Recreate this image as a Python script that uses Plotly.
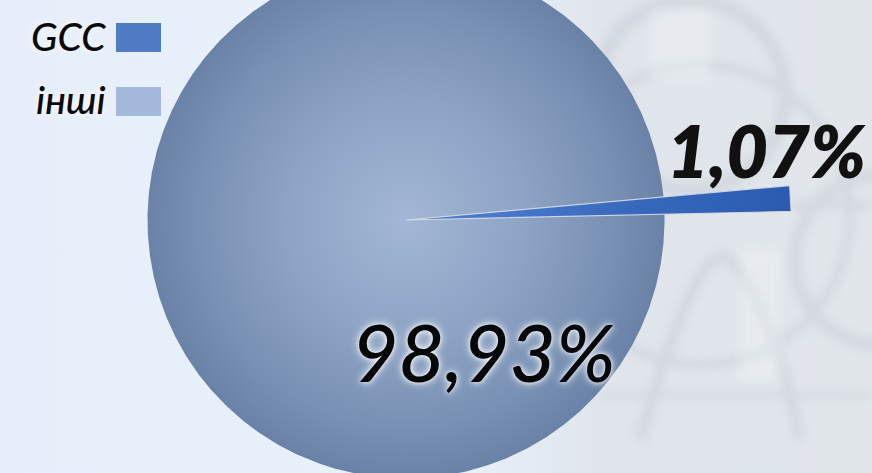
import base64
import numpy as np
import plotly.graph_objects as go

# ---- data -------------------------------------------------------------
labels = ["GCC", "інші"]
shares = [1.07, 98.93]          # per cent
slice_colors = ["#4f7cc4", "#a4b9d9"]

# ---- styling ----------------------------------------------------------
W, H = 872, 473
PX_PER_UNIT = 258.5              # radius of the main disc in pixels
CENTER_PX = (406, 220)           # disc centre on the canvas
START_ANGLE = 1.28               # degrees, counter-clockwise from east
RADII = [1.49, 1.0]              # GCC slice is drawn longer than the disc
FONT = "Lato"


def fmt(v):
    return f"{v:.2f}".replace(".", ",") + "%"


def wedge(a0, a1, r, n=400):
    t = np.radians(np.linspace(a0, a1, n))
    x = np.concatenate([[0.0], r * np.cos(t), [0.0]])
    y = np.concatenate([[0.0], r * np.sin(t), [0.0]])
    return x, y


# angular extents derived from the shares
sweeps = [s / 100.0 * 360.0 for s in shares]
starts = [START_ANGLE, START_ANGLE + sweeps[0]]

# axis ranges that keep one data unit equal to PX_PER_UNIT pixels
cx, cy = CENTER_PX
x_range = [-cx / PX_PER_UNIT, (W - cx) / PX_PER_UNIT]
y_range = [-(H - cy) / PX_PER_UNIT, cy / PX_PER_UNIT]

fig = go.Figure()

# "інші" – the large disc with a soft radial shading
ox, oy = wedge(starts[1], starts[1] + sweeps[1], RADII[1], 900)
fig.add_trace(go.Scatter(
    x=ox, y=oy, mode="lines", fill="toself", name=labels[1],
    line=dict(width=0, color=slice_colors[1]),
    fillgradient=dict(type="radial",
                      colorscale=[[0, "#a2b7d5"], [0.45, "#8ea4c5"],
                                  [0.8, "#7890b3"], [1, "#6a82a7"]]),
    hoverinfo="skip", showlegend=False,
))

# "GCC" – the thin, longer slice
gx, gy = wedge(starts[0], starts[0] + sweeps[0], RADII[0], 60)
fig.add_trace(go.Scatter(
    x=gx, y=gy, mode="lines", fill="toself", name=labels[0],
    line=dict(width=1.2, color="rgba(215,220,228,0.9)"),
    fillgradient=dict(type="horizontal", start=0, stop=RADII[0],
                      colorscale=[[0, "#5283d2"], [0.6, "#3868bc"],
                                  [1, "#2a5bb0"]]),
    hoverinfo="skip", showlegend=False,
))


def px_to_data(px, py):
    return (px - cx) / PX_PER_UNIT, (cy - py) / PX_PER_UNIT


annotations = []

# value labels
lx, ly = px_to_data(766, 150)
annotations.append(dict(
    x=lx, y=ly, text=fmt(shares[0]), showarrow=False,
    xanchor="center", yanchor="middle",
    font=dict(family=FONT, size=72, color="#111111", style="italic",
              weight=800),
))
lx, ly = px_to_data(484, 351)
annotations.append(dict(
    x=lx, y=ly, text=fmt(shares[1]), showarrow=False,
    xanchor="center", yanchor="middle",
    font=dict(family=FONT, size=80, color="#050708", style="italic",
              weight=500,
              shadow="0px 0px 10px rgba(255,255,255,0.95), 0px 0px 4px rgba(255,255,255,0.8)"),
))

# legend: text on the left, colour swatch on the right
legend_rows = [(36, 23, 52), (99, 87, 116)]
for name, color, (ty, y0, y1) in zip(labels, slice_colors, legend_rows):
    annotations.append(dict(
        xref="paper", yref="paper", x=108 / W, y=1 - ty / H,
        text=name, showarrow=False, xanchor="right", yanchor="middle",
        font=dict(family=FONT, size=39, color="#0a0a0a", style="italic",
                  weight=500, shadow="0px 0px 8px #ffffff"),
    ))

shapes = []
for color, (ty, y0, y1) in zip(slice_colors, legend_rows):
    shapes.append(dict(
        type="rect", xref="paper", yref="paper",
        x0=116 / W, x1=161 / W, y0=1 - y1 / H, y1=1 - y0 / H,
        fillcolor=color, line=dict(width=0), layer="above",
    ))

# light backdrop with a faint metallic motif on the right
bg_svg = f"""<svg xmlns='http://www.w3.org/2000/svg' width='{W}' height='{H}' viewBox='0 0 {W} {H}'>
<defs>
<linearGradient id='g' x1='0' x2='1' y1='0' y2='0'>
<stop offset='0' stop-color='#e5eefa'/>
<stop offset='0.5' stop-color='#e9f1fa'/>
<stop offset='0.7' stop-color='#e0e5eb'/>
<stop offset='1' stop-color='#e2e6eb'/>
</linearGradient>
<filter id='b'><feGaussianBlur stdDeviation='5'/></filter>
</defs>
<rect width='{W}' height='{H}' fill='url(#g)'/>
<g fill='none' stroke='#c4cbd4' opacity='0.45' filter='url(#b)'>
<circle cx='690' cy='95' r='95' stroke-width='16'/>
<circle cx='880' cy='260' r='85' stroke-width='14'/>
<circle cx='700' cy='215' r='150' stroke-width='10'/>
<path d='M640 440 Q700 230 730 260 Q770 300 800 440' stroke-width='12'/>
<path d='M600 395 L872 395' stroke-width='6'/>
<path d='M790 205 L872 205' stroke-width='10'/>
</g>
<g fill='#f4f6f8' opacity='0.35' filter='url(#b)'>
<rect x='740' y='250' width='40' height='130'/>
<rect x='650' y='10' width='60' height='70'/>
</g>
</svg>"""
bg_uri = "data:image/svg+xml;base64," + base64.b64encode(bg_svg.encode()).decode()

fig.update_layout(
    width=W, height=H,
    margin=dict(l=0, r=0, t=0, b=0),
    paper_bgcolor="#e7f0fa",
    plot_bgcolor="rgba(0,0,0,0)",
    xaxis=dict(range=x_range, visible=False, fixedrange=True),
    yaxis=dict(range=y_range, visible=False, fixedrange=True),
    annotations=annotations,
    shapes=shapes,
    images=[dict(source=bg_uri, xref="paper", yref="paper", x=0, y=1,
                 sizex=1, sizey=1, xanchor="left", yanchor="top",
                 sizing="stretch", layer="below")],
    showlegend=False,
)

fig.write_html("out.html", config={"displayModeBar": False})
